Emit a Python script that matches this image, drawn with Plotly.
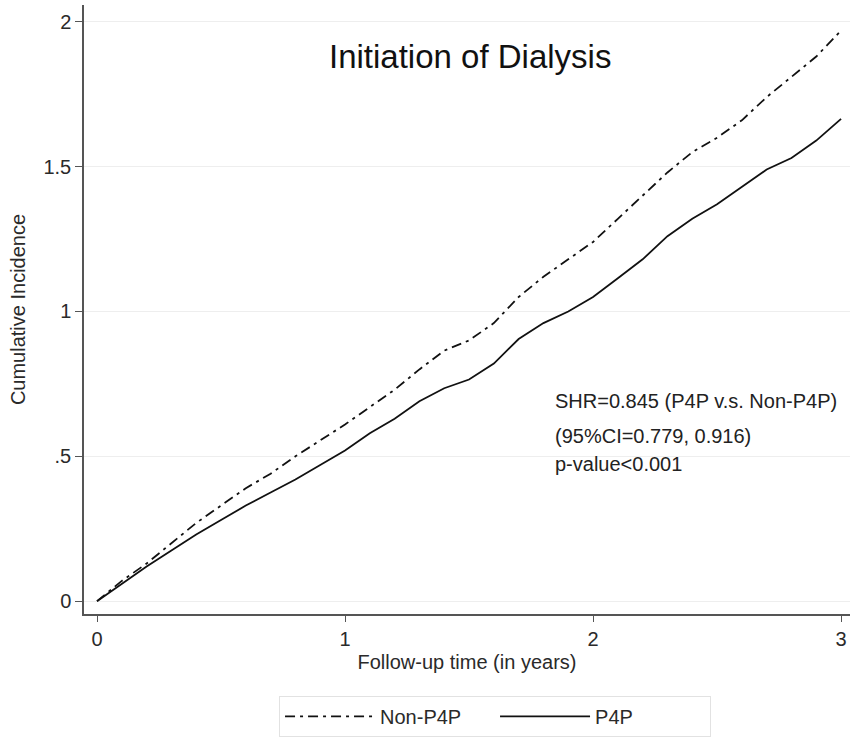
import plotly.graph_objects as go

# follow-up time in years
years = [0, 0.1, 0.2, 0.3, 0.4, 0.5, 0.6, 0.7, 0.8, 0.9, 1.0,
         1.1, 1.2, 1.3, 1.4, 1.5, 1.6, 1.7, 1.8, 1.9, 2.0,
         2.1, 2.2, 2.3, 2.4, 2.5, 2.6, 2.7, 2.8, 2.9, 3.0]

non_p4p = [0, 0.07, 0.13, 0.20, 0.27, 0.33, 0.39, 0.44, 0.50, 0.555, 0.61,
           0.67, 0.73, 0.80, 0.865, 0.90, 0.96, 1.05, 1.12, 1.18, 1.24,
           1.32, 1.40, 1.48, 1.55, 1.60, 1.66, 1.74, 1.81, 1.88, 1.97]

p4p = [0, 0.06, 0.12, 0.175, 0.23, 0.28, 0.33, 0.375, 0.42, 0.47, 0.52,
       0.58, 0.63, 0.69, 0.735, 0.765, 0.82, 0.905, 0.96, 1.00, 1.05,
       1.115, 1.18, 1.26, 1.32, 1.37, 1.43, 1.49, 1.53, 1.59, 1.665]

y_ticks = [0, 0.5, 1, 1.5, 2]
y_labels = ['0', '.5', '1', '1.5', '2']
x_ticks = [0, 1, 2, 3]

stats = ['SHR=0.845 (P4P v.s. Non-P4P)',
         '(95%CI=0.779, 0.916)',
         'p-value<0.001']
stats_y = [0.350, 0.293, 0.246]

font = 'Liberation Sans, Arial, sans-serif'

fig = go.Figure()
fig.add_trace(go.Scatter(x=years, y=non_p4p, mode='lines', name='Non-P4P',
                         line=dict(color='#111111', width=1.8,
                                   dash='10px,5px,3px,5px')))
fig.add_trace(go.Scatter(x=years, y=p4p, mode='lines', name='P4P',
                         line=dict(color='#111111', width=1.8)))

fig.add_annotation(text='Initiation of Dialysis', xref='paper', yref='paper',
                   x=0.504, y=0.915, xanchor='center', yanchor='middle',
                   showarrow=False,
                   font=dict(family=font, size=33, color='#111111'))

for s, yy in zip(stats, stats_y):
    fig.add_annotation(text=s, xref='paper', yref='paper',
                       x=0.612, y=yy, xanchor='left', yanchor='middle',
                       showarrow=False,
                       font=dict(family=font, size=20, color='#222222'))

fig.update_layout(
    width=851, height=738,
    margin=dict(l=84, r=1, t=5, b=116),
    paper_bgcolor='white', plot_bgcolor='white',
    font=dict(family=font, size=20, color='#2a2a2a'),
    showlegend=True,
    legend=dict(orientation='h', xanchor='center', x=0.5366,
                yanchor='top', y=-0.1345,
                bordercolor='#e2e2e2', borderwidth=1,
                font=dict(size=20), itemwidth=90,
                entrywidth=110, entrywidthmode='pixels'),
)

fig.update_xaxes(range=[-0.0524, 3.036], tickvals=x_ticks,
                 showgrid=False, zeroline=False, automargin=False,
                 showline=True, linecolor='#555555', linewidth=1.5,
                 ticks='outside', ticklen=6, tickcolor='#555555',
                 title=dict(text='Follow-up time (in years)', standoff=6,
                            font=dict(size=20)))

fig.update_yaxes(range=[-0.0443, 2.058], tickvals=y_ticks, ticktext=y_labels,
                 showgrid=True, gridcolor='#eeeeee', zeroline=False,
                 automargin=False,
                 showline=True, linecolor='#555555', linewidth=1.5,
                 ticks='outside', ticklen=7, tickcolor='#555555',
                 tickangle=0,
                 title=dict(text='Cumulative Incidence', standoff=12,
                            font=dict(size=20)))

# drop the default page margin so the figure sits at the window's top-left
fig.write_html("out.html", config={'displayModeBar': False},
               post_script="document.body.style.margin='0';")
